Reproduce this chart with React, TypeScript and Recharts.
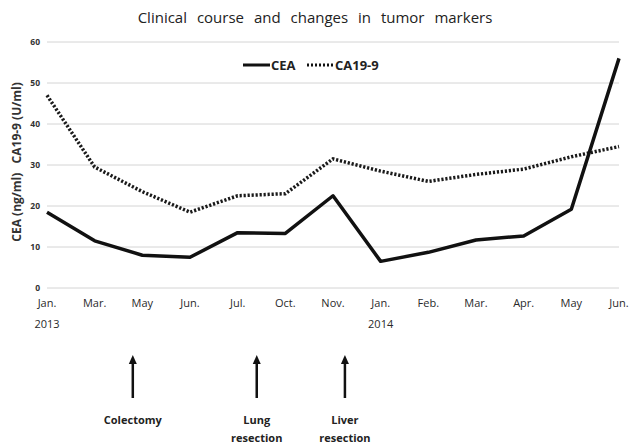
import React from "react";
import { LineChart, Line, XAxis, YAxis, CartesianGrid } from "recharts";

const months = ["Jan.", "Mar.", "May", "Jun.", "Jul.", "Oct.", "Nov.", "Jan.", "Feb.", "Mar.", "Apr.", "May", "Jun."];
const years = ["2013", "", "", "", "", "", "", "2014", "", "", "", "", ""];
const ceaValues = [18.5, 11.5, 8, 7.5, 13.5, 13.3, 22.5, 6.5, 8.7, 11.7, 12.7, 19.2, 56];
const ca199Values = [47, 29.5, 23.5, 18.5, 22.5, 23, 31.5, 28.5, 26, 27.7, 29, 32, 34.5];
const yTicks = [0, 10, 20, 30, 40, 50, 60];
const events = [
  { pos: 1.8, lines: ["Colectomy"] },
  { pos: 4.4, lines: ["Lung", "resection"] },
  { pos: 6.25, lines: ["Liver", "resection"] },
];

const data = months.map((m, i) => ({ key: i, month: m, year: years[i], CEA: ceaValues[i], CA199: ca199Values[i] }));

const W = 629;
const H = 445;
const PLOT_LEFT = 47;
const PLOT_RIGHT = 619;
const PLOT_TOP = 42;
const PLOT_BOTTOM = 288;
const X_AXIS_H = 30;
const STEP = (PLOT_RIGHT - PLOT_LEFT) / (months.length - 1);
const FONT = "'Open Sans', sans-serif";

const XTick = (props: any) => {
  const { x, y, payload } = props;
  const d = data[payload.value];
  return (
    <g>
      <text x={x} y={y + 17} textAnchor="middle" fontSize={11} fill="#2a2a2a" fontFamily={FONT}>{d.month}</text>
      {d.year ? (
        <text x={x} y={y + 38} textAnchor="middle" fontSize={11} fill="#2a2a2a" fontFamily={FONT}>{d.year}</text>
      ) : null}
    </g>
  );
};

export default function App() {
  return (
    <div style={{ position: "absolute", left: 0, top: 0, width: W, height: H, background: "#fff" }}>
      <LineChart
        width={W}
        height={H}
        data={data}
        margin={{ top: PLOT_TOP, right: W - PLOT_RIGHT, bottom: H - PLOT_BOTTOM - X_AXIS_H, left: 0 }}
      >
        <CartesianGrid vertical={false} stroke="#d4d4d4" strokeWidth={1} />
        <XAxis
          dataKey="key"
          type="category"
          height={X_AXIS_H}
          axisLine={false}
          tickLine={false}
          tickSize={0}
          tick={<XTick />}
          interval={0}
        />
        <YAxis
          width={PLOT_LEFT}
          domain={[0, 60]}
          ticks={yTicks}
          axisLine={false}
          tickLine={false}
          tickSize={0}
          tickMargin={7}
          tick={{ fontSize: 8.5, fill: "#333", fontFamily: FONT, fontWeight: 700 }}
        />
        <Line
          dataKey="CA199"
          stroke="#1a1a1a"
          strokeWidth={3.5}
          strokeDasharray="2.2 1.8"
          dot={false}
          activeDot={false}
          isAnimationActive={false}
        />
        <Line
          dataKey="CEA"
          stroke="#111"
          strokeWidth={3.5}
          strokeLinejoin="round"
          dot={false}
          activeDot={false}
          isAnimationActive={false}
        />
      </LineChart>
      <svg width={W} height={H} style={{ position: "absolute", left: 0, top: 0, pointerEvents: "none" }}>
        <text x={315} y={23} textAnchor="middle" fontSize={15} fill="#222" fontFamily={FONT} style={{ wordSpacing: 6 }}>
          Clinical course and changes in tumor markers
        </text>
        <text
          transform="translate(21,162) rotate(-90)"
          textAnchor="middle"
          fontSize={12}
          fontWeight={700}
          fill="#333"
          fontFamily={FONT}
          style={{ whiteSpace: "pre" }}
        >
          {"CEA (ng/ml)   CA19-9 (U/ml)"}
        </text>
        <g>
          <line x1={243} y1={65} x2={270} y2={65} stroke="#111" strokeWidth={3} />
          <text x={271} y={70} fontSize={13} fontWeight={700} fill="#222" fontFamily={FONT}>CEA</text>
          <line x1={307} y1={65} x2={334} y2={65} stroke="#111" strokeWidth={3} strokeDasharray="2 2" />
          <text x={335} y={70} fontSize={13} fontWeight={700} fill="#222" fontFamily={FONT}>CA19-9</text>
        </g>
        {events.map((ev, i) => {
          const x = PLOT_LEFT + ev.pos * STEP;
          return (
            <g key={i}>
              <line x1={x} y1={398} x2={x} y2={362} stroke="#111" strokeWidth={2.5} />
              <polygon points={`${x - 4},${364} ${x + 4},${364} ${x},${355}`} fill="#111" />
              {ev.lines.map((t, j) => (
                <text key={j} x={x} y={424 + j * 18} textAnchor="middle" fontSize={11} fontWeight={700} fill="#222" fontFamily={FONT}>
                  {t}
                </text>
              ))}
            </g>
          );
        })}
      </svg>
    </div>
  );
}
